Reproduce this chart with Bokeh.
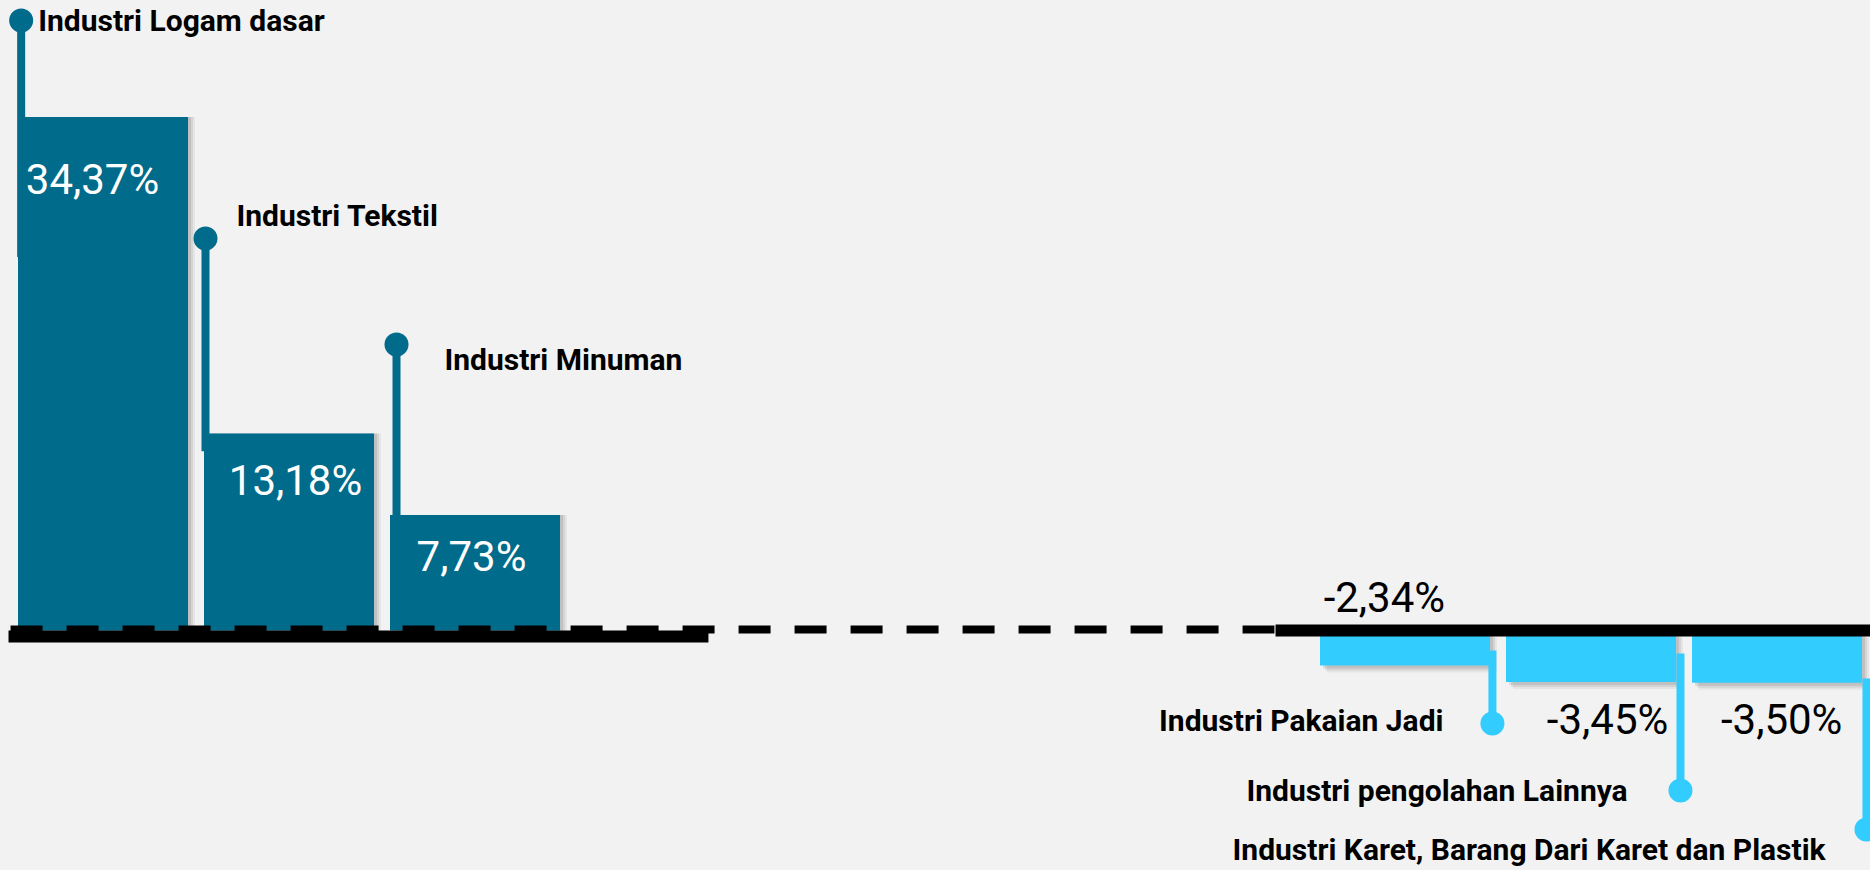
from bokeh.plotting import figure
from bokeh.models import Range1d, ColumnDataSource
from bokeh.core.properties import value
from bokeh.embed import file_html
from bokeh.resources import INLINE

# ---------------- data ----------------
categories = ["Industri Logam dasar", "Industri Tekstil", "Industri  Minuman",
              "Industri Pakaian Jadi", "Industri pengolahan Lainnya",
              "Industri Karet, Barang Dari Karet dan Plastik"]
growth = [34.37, 13.18, 7.73, -2.34, -3.45, -3.50]
value_labels = ["34,37%", "13,18%", "7,73%", "-2,34%", "-3,45%", "-3,50%"]

# ---------------- layout (slot units on x, percent units on y) ----------------
slots = [0, 1, 2, 7, 8, 9]
BAR_W = 170 / 186
PXX = 1 / 186.0      # one pixel in x data units
PXY = 1 / 14.94      # one pixel in y data units

label_x = [-0.348, 0.7177, 1.836, 7.207, 6.148, 6.073]
label_y = [40.83, 27.78, 18.14, -6.024, -10.71, -14.66]
label_align = ["left", "left", "left", "right", "left", "left"]
dot_x = [-0.440, 0.551, 1.578, 7.470, 8.481, 9.481]
dot_y = [40.83, 26.24, 19.14, -6.225, -10.71, -13.32]
stem_end = [25.0, 12.0, 7.0, -1.34, -1.54, -3.21]
val_x = [-0.0565, 1.035, 1.981, 6.889, 8.089, 9.025]
val_y = [30.22, 10.007, 4.92, 2.242, -5.99, -5.99]

TEAL = "#006B8A"
SKY = "#33CCFF"
BG = "#F2F2F2"
colors = [TEAL if g > 0 else SKY for g in growth]
val_colors = ["white" if g > 0 else "black" for g in growth]

FONT = value("Roboto")

p = figure(width=1870, height=870,
           x_range=Range1d(-0.5511, 9.5027), y_range=Range1d(-16.064, 42.169),
           x_axis_type=None, y_axis_type=None,
           output_backend="svg", toolbar_location=None, min_border=0,
           background_fill_color=BG, border_fill_color=BG, outline_line_color=None)
p.grid.visible = False

# shadows
for k, a in [(7, 0.05), (5, 0.07), (3, 0.09)]:
    src = ColumnDataSource(dict(
        left=[s - BAR_W / 2 + k * PXX for s in slots],
        right=[s + BAR_W / 2 + k * PXX for s in slots],
        top=[max(g, 0) - (0 if g > 0 else k * PXY) for g in growth],
        bottom=[min(g, 0) - k * PXY for g in growth]))
    p.quad(left="left", right="right", top="top", bottom="bottom", source=src,
           fill_color="black", fill_alpha=a, line_color=None)

# bars
bars = ColumnDataSource(dict(
    left=[s - BAR_W / 2 for s in slots],
    right=[s + BAR_W / 2 for s in slots],
    top=[max(g, 0) for g in growth],
    bottom=[min(g, 0) for g in growth],
    color=colors))
p.quad(left="left", right="right", top="top", bottom="bottom", source=bars,
       fill_color="color", line_color=None)

# baseline lines
p.line(x=[-0.508, 3.255], y=[-0.4016, -0.4016], line_color="black", line_width=12)
p.line(x=[-0.497, 6.298], y=[0.0669, 0.0669], line_color="black", line_width=8,
       line_dash="32 24")
p.line(x=[6.304, 9.51], y=[0.0, 0.0], line_color="black", line_width=12)

# stems and dots
stems = ColumnDataSource(dict(x=dot_x, y0=dot_y, y1=stem_end, color=colors))
p.segment(x0="x", y0="y0", x1="x", y1="y1", source=stems, line_color="color",
          line_width=8)
p.scatter(x=dot_x, y=dot_y, size=24, marker="circle", fill_color=colors,
          line_color=None)

# category labels
for i, c in enumerate(categories):
    p.text(x=[label_x[i]], y=[label_y[i]], text=[c], text_font=FONT,
           text_font_style="bold", text_font_size="30px", text_color="black",
           text_align=label_align[i], text_baseline="alphabetic")

# value labels
vl = ColumnDataSource(dict(x=val_x, y=val_y, t=value_labels, c=val_colors))
p.text(x="x", y="y", text="t", source=vl, text_font=FONT, text_font_size="42px",
       text_color="c", text_align="center", text_baseline="alphabetic")

html = file_html(p, INLINE, title="Pertumbuhan Industri")
i = html.rfind("<body")
html = html[:i] + '<body style="background-color:#F2F2F2"' + html[i + 5:]
open("out.html", "w").write(html)
